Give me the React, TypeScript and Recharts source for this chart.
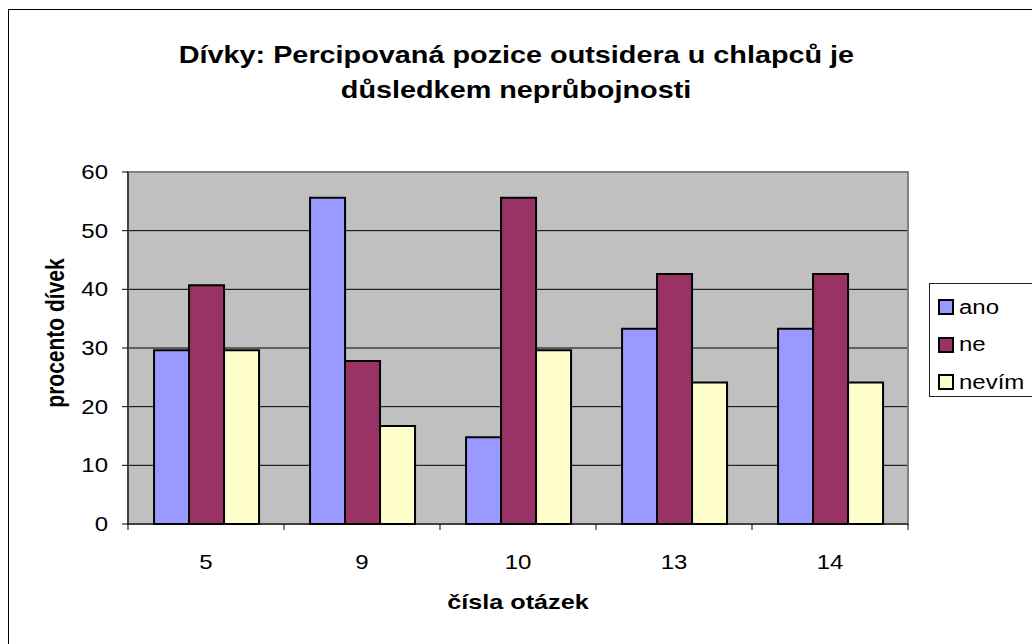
import React from 'react';
import { BarChart, Bar, XAxis, YAxis, CartesianGrid, ReferenceArea } from 'recharts';

const questions = ['5', '9', '10', '13', '14'];
const ano = [29.6, 55.6, 14.8, 33.3, 33.3];
const ne = [40.7, 27.8, 55.6, 42.6, 42.6];
const nevim = [29.6, 16.7, 29.6, 24.1, 24.1];
const yTicks = [0, 10, 20, 30, 40, 50, 60];

const seriesNames = ['ano', 'ne', 'nevím'];
const seriesColors = ['#9999FF', '#993366', '#FFFFCC'];

const data = questions.map((q, i) => ({ q, ano: ano[i], ne: ne[i], nevim: nevim[i] }));

const FONT = '"Liberation Sans", Arial, sans-serif';
// the original export is stretched sideways, so every text gets a horizontal scale
const SX = 1.2;

const XTick = (props: any) => {
  const { x, y, payload, index, width, visibleTicksCount } = props;
  const band = width / visibleTicksCount;
  const axisY = y - 30;
  return (
    <g>
      <line x1={x - band / 2} x2={x - band / 2} y1={axisY} y2={axisY + 6} stroke="#000" />
      {index === visibleTicksCount - 1 && (
        <line x1={x + band / 2} x2={x + band / 2} y1={axisY} y2={axisY + 6} stroke="#000" />
      )}
      <g transform={`translate(${x},${y + 15})`}>
        <text transform={`scale(${SX},1)`} textAnchor="middle" fontSize={20} fontFamily={FONT} fill="#000">
          {payload.value}
        </text>
      </g>
    </g>
  );
};

const YTick = (props: any) => {
  const { x, y, payload } = props;
  return (
    <g transform={`translate(${x},${y + 7})`}>
      <text transform={`scale(${SX},1)`} textAnchor="end" fontSize={20} fontFamily={FONT} fill="#000">
        {payload.value}
      </text>
    </g>
  );
};

const stretched: React.CSSProperties = {
  display: 'inline-block',
  transform: `scaleX(${SX})`,
  whiteSpace: 'nowrap',
};

export default function App() {
  return (
    <div style={{ position: 'absolute', left: 0, top: 0, width: 1032, height: 644, background: '#fff', overflow: 'hidden' }}>
      <div style={{ position: 'absolute', left: 8, top: 9, width: 1100, height: 700, border: '1px solid #000' }} />
      <div
        style={{
          position: 'absolute',
          left: 0,
          top: 37,
          width: 1032,
          textAlign: 'center',
          fontFamily: FONT,
          fontWeight: 'bold',
          fontSize: 24,
          lineHeight: '35px',
        }}
      >
        <span style={stretched}>Dívky: Percipovaná pozice outsidera u chlapců je</span>
        <br />
        <span style={stretched}>důsledkem neprůbojnosti</span>
      </div>
      <div
        style={{
          position: 'absolute',
          left: 418,
          width: 200,
          top: 590,
          textAlign: 'center',
          fontFamily: FONT,
          fontWeight: 'bold',
          fontSize: 21,
        }}
      >
        <span style={stretched}>čísla otázek</span>
      </div>
      <div
        style={{
          position: 'absolute',
          left: 56 - 100,
          top: 333 - 13,
          width: 200,
          height: 26,
          lineHeight: '26px',
          textAlign: 'center',
          fontFamily: FONT,
          fontWeight: 'bold',
          fontSize: 21,
          whiteSpace: 'nowrap',
          transform: `rotate(-90deg) scaleY(${SX})`,
        }}
      >
        procento dívek
      </div>
      <div
        style={{
          position: 'absolute',
          left: 929,
          top: 283,
          width: 120,
          height: 112,
          border: '1px solid #222',
          background: '#fff',
          fontFamily: FONT,
          fontSize: 20,
          zIndex: 2,
        }}
      >
        {seriesNames.map((n, i) => (
          <div key={n} style={{ position: 'absolute', left: 8, top: 10 + i * 37.5, height: 26, display: 'flex', alignItems: 'center' }}>
            <span
              style={{
                display: 'inline-block',
                width: 12,
                height: 12,
                border: '2px solid #000',
                background: seriesColors[i],
                marginRight: 5,
              }}
            />
            <span style={{ ...stretched, transformOrigin: 'left center' }}>{n}</span>
          </div>
        ))}
      </div>
      <BarChart
        width={1032}
        height={644}
        data={data}
        margin={{ top: 172, right: 124, bottom: 90, left: 68 }}
        barCategoryGap="16.7%"
        barGap={0}
        style={{ position: 'absolute', left: 0, top: 0 }}
      >
        <CartesianGrid vertical={false} stroke="#000" fill="#C0C0C0" horizontalValues={[10, 20, 30, 40, 50]} />
        <ReferenceArea y1={0} y2={60} fill="none" stroke="#808080" strokeWidth={2} ifOverflow="visible" />
        <XAxis
          dataKey="q"
          height={30}
          tickLine={false}
          tickSize={6}
          tickMargin={24}
          axisLine={{ stroke: '#000' }}
          tick={<XTick />}
          interval={0}
        />
        <YAxis
          width={60}
          domain={[0, 60]}
          ticks={yTicks}
          interval={0}
          tickSize={6}
          tickMargin={14}
          axisLine={{ stroke: '#000' }}
          tickLine={{ stroke: '#000' }}
          tick={<YTick />}
        />
        <Bar dataKey="ano" name="ano" fill={seriesColors[0]} stroke="#000" strokeWidth={2} isAnimationActive={false} />
        <Bar dataKey="ne" name="ne" fill={seriesColors[1]} stroke="#000" strokeWidth={2} isAnimationActive={false} />
        <Bar dataKey="nevim" name="nevím" fill={seriesColors[2]} stroke="#000" strokeWidth={2} isAnimationActive={false} />
      </BarChart>
    </div>
  );
}
